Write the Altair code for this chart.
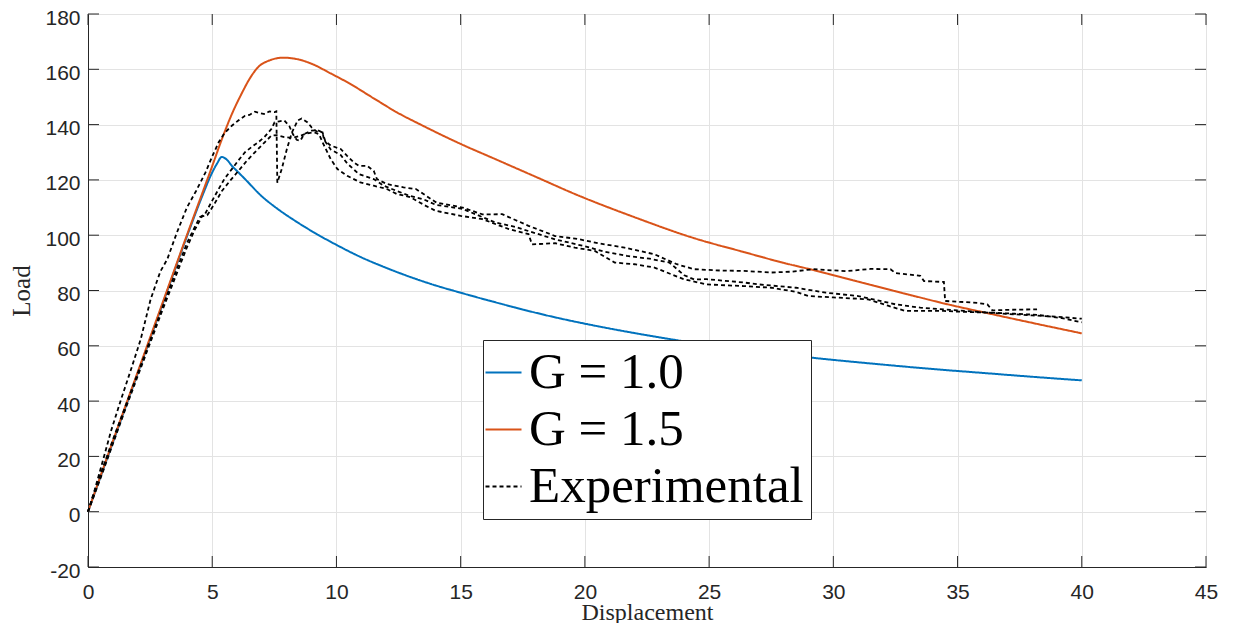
import altair as alt
import pandas as pd

# ---------------- data ----------------
x_ticks = [0, 5, 10, 15, 20, 25, 30, 35, 40, 45]
y_ticks = [-20, 0, 20, 40, 60, 80, 100, 120, 140, 160, 180]

series_names = ["G = 1.0", "G = 1.5", "Experimental"]
series_colors = ["#0072BD", "#D95319", "#000000"]

g10_x = [0, 1, 2, 3, 4, 4.6, 5.0, 5.2, 5.38, 5.6, 5.79, 6.0, 6.32, 6.98, 7.65, 8.44, 9.0, 10.0, 11.0,
         12.0, 13.0, 14.0, 15.0, 16.0, 17.0, 18.0, 19.0, 20.0, 22.0, 24.0, 26.0, 28.0, 30.0, 32.0,
         34.0, 36.0, 38.0, 40.0]
g10_y = [0, 25, 50, 75, 100, 114.2, 122.7, 126, 128.3, 127.2, 125.1, 123.2, 120.3, 114.2, 109.4,
         104.6, 101.5, 96.5, 92, 88.2, 84.8, 81.8, 79.2, 76.7, 74.3, 72.0, 69.9, 68.0, 64.6, 61.6,
         59.0, 56.8, 54.9, 53.2, 51.6, 50.2, 48.8, 47.5]

g15_x = [0, 1, 2, 3, 4, 5, 5.4, 5.8, 6.2, 6.5, 6.85, 7.3, 7.85, 8.5, 9.0, 9.77, 10.5, 11.5, 12.42,
         13.5, 15.0, 16.4, 18.0, 19.7, 22.0, 24.37, 26.36, 28.0, 29.15, 31.0, 33.0, 34.6, 36.0,
         38.0, 40.0]
g15_y = [0, 25.5, 50.5, 75.5, 100.5, 125, 135, 144, 151.5, 156.5, 160.8, 163.2, 164.2, 163.5, 162,
         158.5, 155, 149.5, 144.5, 139.5, 133, 127.5, 121.2, 114.5, 106.5, 99, 94, 90, 87.5, 83.2,
         78.6, 75, 72.2, 68.3, 64.5]

expA_x = [0, 0.27, 0.6, 0.93, 1.33, 1.73, 2.12, 2.52, 2.85, 2.92, 3.19, 3.58, 3.98, 4.35, 4.73,
          5.0, 5.26, 5.5, 5.79, 6.05, 6.32, 6.5, 6.72, 6.9, 7.12, 7.3, 7.51, 7.58, 7.6, 7.62, 7.8,
          8.0, 8.2, 8.44, 8.6, 8.84, 9.0, 9.2, 9.44, 9.55, 9.77, 10.17, 10.43, 10.7, 10.9, 11.23,
          11.5, 11.63, 12.03, 12.7, 13.2, 14.02, 15.08, 15.88, 16.67, 17.2, 17.73, 18.8, 19.73,
          20.6, 21.6, 22.8, 23.7, 24.4, 25.5, 26.4, 27.5, 28.3, 29.2, 30.5, 31.5, 32.3, 32.5,
          33.5, 33.65, 34.45, 34.5, 35.3, 35.8, 36.2, 36.4, 37.0, 38.2]
expA_y = [0, 7.9, 18.5, 29.3, 40.6, 51.4, 62.3, 76.8, 85.3, 87, 91.3, 101, 110, 116, 122.7,
          128.5, 133.6, 137, 139.6, 141.5, 143.2, 143.5, 144.7, 144.2, 143.8, 144.8, 144.5, 144.8,
          132, 119, 124, 131, 137, 141.5, 142.2, 140.8, 139, 137.5, 137.2, 134, 132.4, 131.2,
          128.7, 126.3, 125.1, 125.1, 123.3, 120.3, 118.5, 117.3, 116.7, 111.8, 110, 107.5, 107.6,
          105.5, 103.4, 99.7, 98.6, 97, 95.5, 93.1, 89.5, 87.7, 87.2, 87.1, 86.5, 86.8, 87.7, 87,
          87.8, 87.7, 86.3, 85.3, 83.4, 83.1, 76.2, 75.8, 75.5, 75, 72.8, 73, 73.2]

expB_x = [0, 0.4, 1, 1.5, 2, 2.5, 3, 3.5, 4, 4.3, 4.5, 4.7, 5.0, 5.26, 5.5, 5.79, 6.05, 6.32, 6.6,
          6.85, 7.1, 7.38, 7.51, 7.7, 7.9, 8.1, 8.25, 8.4, 8.55, 8.7, 9.0, 9.24, 9.44, 9.5, 9.77,
          10.17, 10.43, 10.9, 11.5, 11.9, 12.43, 12.96, 13.5, 14.0, 15.08, 16.4, 17.2, 17.73,
          18.8, 20.0, 20.8, 21.7, 22.6, 23.4, 24.0, 24.4, 24.9, 26.4, 27.0, 28.5, 29.7, 31.0,
          32.5, 33.5, 35.0, 36.5, 38.0, 39.0, 40.0]
expB_y = [0, 11, 26, 38, 50, 62, 74, 86, 97.5, 103, 106.5, 107.5, 112.5, 116.7, 120.5, 123.9, 127,
          130, 132, 133.6, 135.5, 138.4, 140.8, 141.2, 141.5, 139.5, 136.5, 134.5, 134.2, 136.6,
          137.8, 138, 137.2, 134.5, 131, 129, 126, 122.1, 120.3, 117.9, 116, 114.2, 113, 111,
          109.5, 104.6, 103, 101.5, 98.5, 96, 94, 92.5, 91.5, 90.1, 85.5, 84, 84.1, 82.9, 82.2,
          81, 79.2, 78, 75, 73.8, 72.8, 71.8, 71, 70.5, 69.8]

expC_x = [0, 0.5, 1, 1.5, 2, 2.5, 3, 3.5, 4, 4.3, 4.59, 4.8, 5.1, 5.39, 5.7, 6.05, 6.4, 6.85, 7.1,
          7.38, 7.6, 7.9, 8.2, 8.5, 8.8, 9.1, 9.3, 9.44, 9.77, 10.04, 10.43, 10.96, 11.5, 12.03,
          12.43, 12.96, 13.6, 14.0, 15.0, 15.88, 16.94, 17.73, 17.87, 18.8, 19.6, 20.4, 21.2,
          22.0, 22.8, 23.97, 24.9, 26.4, 27.5, 28.5, 29.0, 30.0, 31.4, 32.2, 32.9, 34.45, 35.5,
          36.3, 37.3, 38.2, 39.2, 40.0]
expC_y = [0, 12, 24.5, 37, 49, 61, 73, 84.5, 96, 102, 106.8, 107.2, 111.5, 116, 119.5, 123.2, 127,
          131.2, 133.5, 136, 136.2, 135.5, 135.2, 135.8, 136.8, 137.2, 136.5, 133.6, 127.5, 123.9,
          121.5, 119.1, 117.9, 116.7, 114.9, 113.8, 110.6, 108.8, 107, 105.8, 102.2, 100.4, 96.7,
          97.1, 95.5, 94.3, 90.1, 89.5, 88.3, 84.1, 82.2, 81.6, 81, 79.5, 78, 77.5, 76.8, 74.5,
          72.6, 72.6, 72.2, 72, 71.6, 71.2, 70, 68.5]

# ---------------- tables ----------------
def table(xs, ys, series, run):
    return pd.DataFrame({"x": xs, "y": ys, "series": series, "run": run})

model_df = pd.concat([
    table(g10_x, g10_y, "G = 1.0", "g10"),
    table(g15_x, g15_y, "G = 1.5", "g15"),
], ignore_index=True)

exp_df = pd.concat([
    table(expA_x, expA_y, "Experimental", "A"),
    table(expB_x, expB_y, "Experimental", "B"),
    table(expC_x, expC_y, "Experimental", "C"),
], ignore_index=True)

xt_df = pd.DataFrame({"x": x_ticks})
yt_df = pd.DataFrame({"y": y_ticks})

W, H = 1118, 553
TICK = 11
AX = "#262626"

legend = alt.Legend(
    title=None, orient="none", legendX=395, legendY=326,
    fillColor="white", strokeColor=AX, padding=7, rowPadding=5,
    labelFont="Liberation Serif", labelFontSize=51, labelColor="black",
    labelOffset=0, labelLimit=0, symbolType="stroke", symbolSize=1296,
    symbolStrokeWidth=2, symbolOffset=-12, cornerRadius=0,
)

color = alt.Color("series:N", scale=alt.Scale(domain=series_names, range=series_colors), legend=legend)
dash = alt.StrokeDash("series:N", scale=alt.Scale(domain=series_names, range=[[1, 0], [1, 0], [4, 3]]),
                      legend=legend)

x_enc = alt.X("x:Q", scale=alt.Scale(domain=[0, 45], nice=False, zero=False),
              axis=alt.Axis(values=x_ticks, title="Displacement", labelExpr="'' + datum.value",
                            labelFlush=False, labelOverlap=False, labelPadding=14,
                            titleY=52, titleBaseline="alphabetic", titleFontSize=24))
y_enc = alt.Y("y:Q", scale=alt.Scale(domain=[-20, 180], nice=False, zero=False),
              axis=alt.Axis(values=y_ticks, title="Load", labelExpr="'' + datum.value",
                            labelFlush=False, labelOverlap=False, labelPadding=8, labelOffset=4,
                            titleX=-59, titleBaseline="alphabetic", titleFontSize=25))

model = alt.Chart(model_df).mark_line(strokeWidth=2, interpolate="monotone").encode(
    x=x_enc, y=y_enc, color=color, strokeDash=dash, detail="run:N")

exp = alt.Chart(exp_df).mark_line(strokeWidth=1.8).encode(
    x="x:Q", y="y:Q", color=color, strokeDash=dash, detail="run:N")

tick_x_bot = alt.Chart(xt_df).mark_rule(color=AX, strokeWidth=1).encode(
    x="x:Q", y=alt.value(H), y2=alt.value(H - TICK))
tick_x_top = alt.Chart(xt_df).mark_rule(color=AX, strokeWidth=1).encode(
    x="x:Q", y=alt.value(0), y2=alt.value(TICK))
tick_y_left = alt.Chart(yt_df).mark_rule(color=AX, strokeWidth=1).encode(
    y="y:Q", x=alt.value(0), x2=alt.value(TICK))
tick_y_right = alt.Chart(yt_df).mark_rule(color=AX, strokeWidth=1).encode(
    y="y:Q", x=alt.value(W), x2=alt.value(W - TICK))

chart = alt.layer(
    model, exp, tick_x_bot, tick_x_top, tick_y_left, tick_y_right
).properties(
    width=W, height=H,
    autosize=alt.AutoSizeParams(type="none"),
    padding={"left": 80, "top": 6, "right": 17, "bottom": 56},
    background="white",
).configure_view(
    stroke=AX, strokeWidth=1
).configure_axis(
    grid=True, gridColor="#e3e3e3", gridWidth=1,
    ticks=False, tickSize=0,
    domainColor=AX, domainWidth=1,
    labelFont="Liberation Sans", labelFontSize=21, labelColor=AX,
    titleFont="Liberation Serif", titleFontWeight="normal", titleColor=AX,
)

chart.save("out.html", embed_options={"renderer": "svg", "actions": False})
